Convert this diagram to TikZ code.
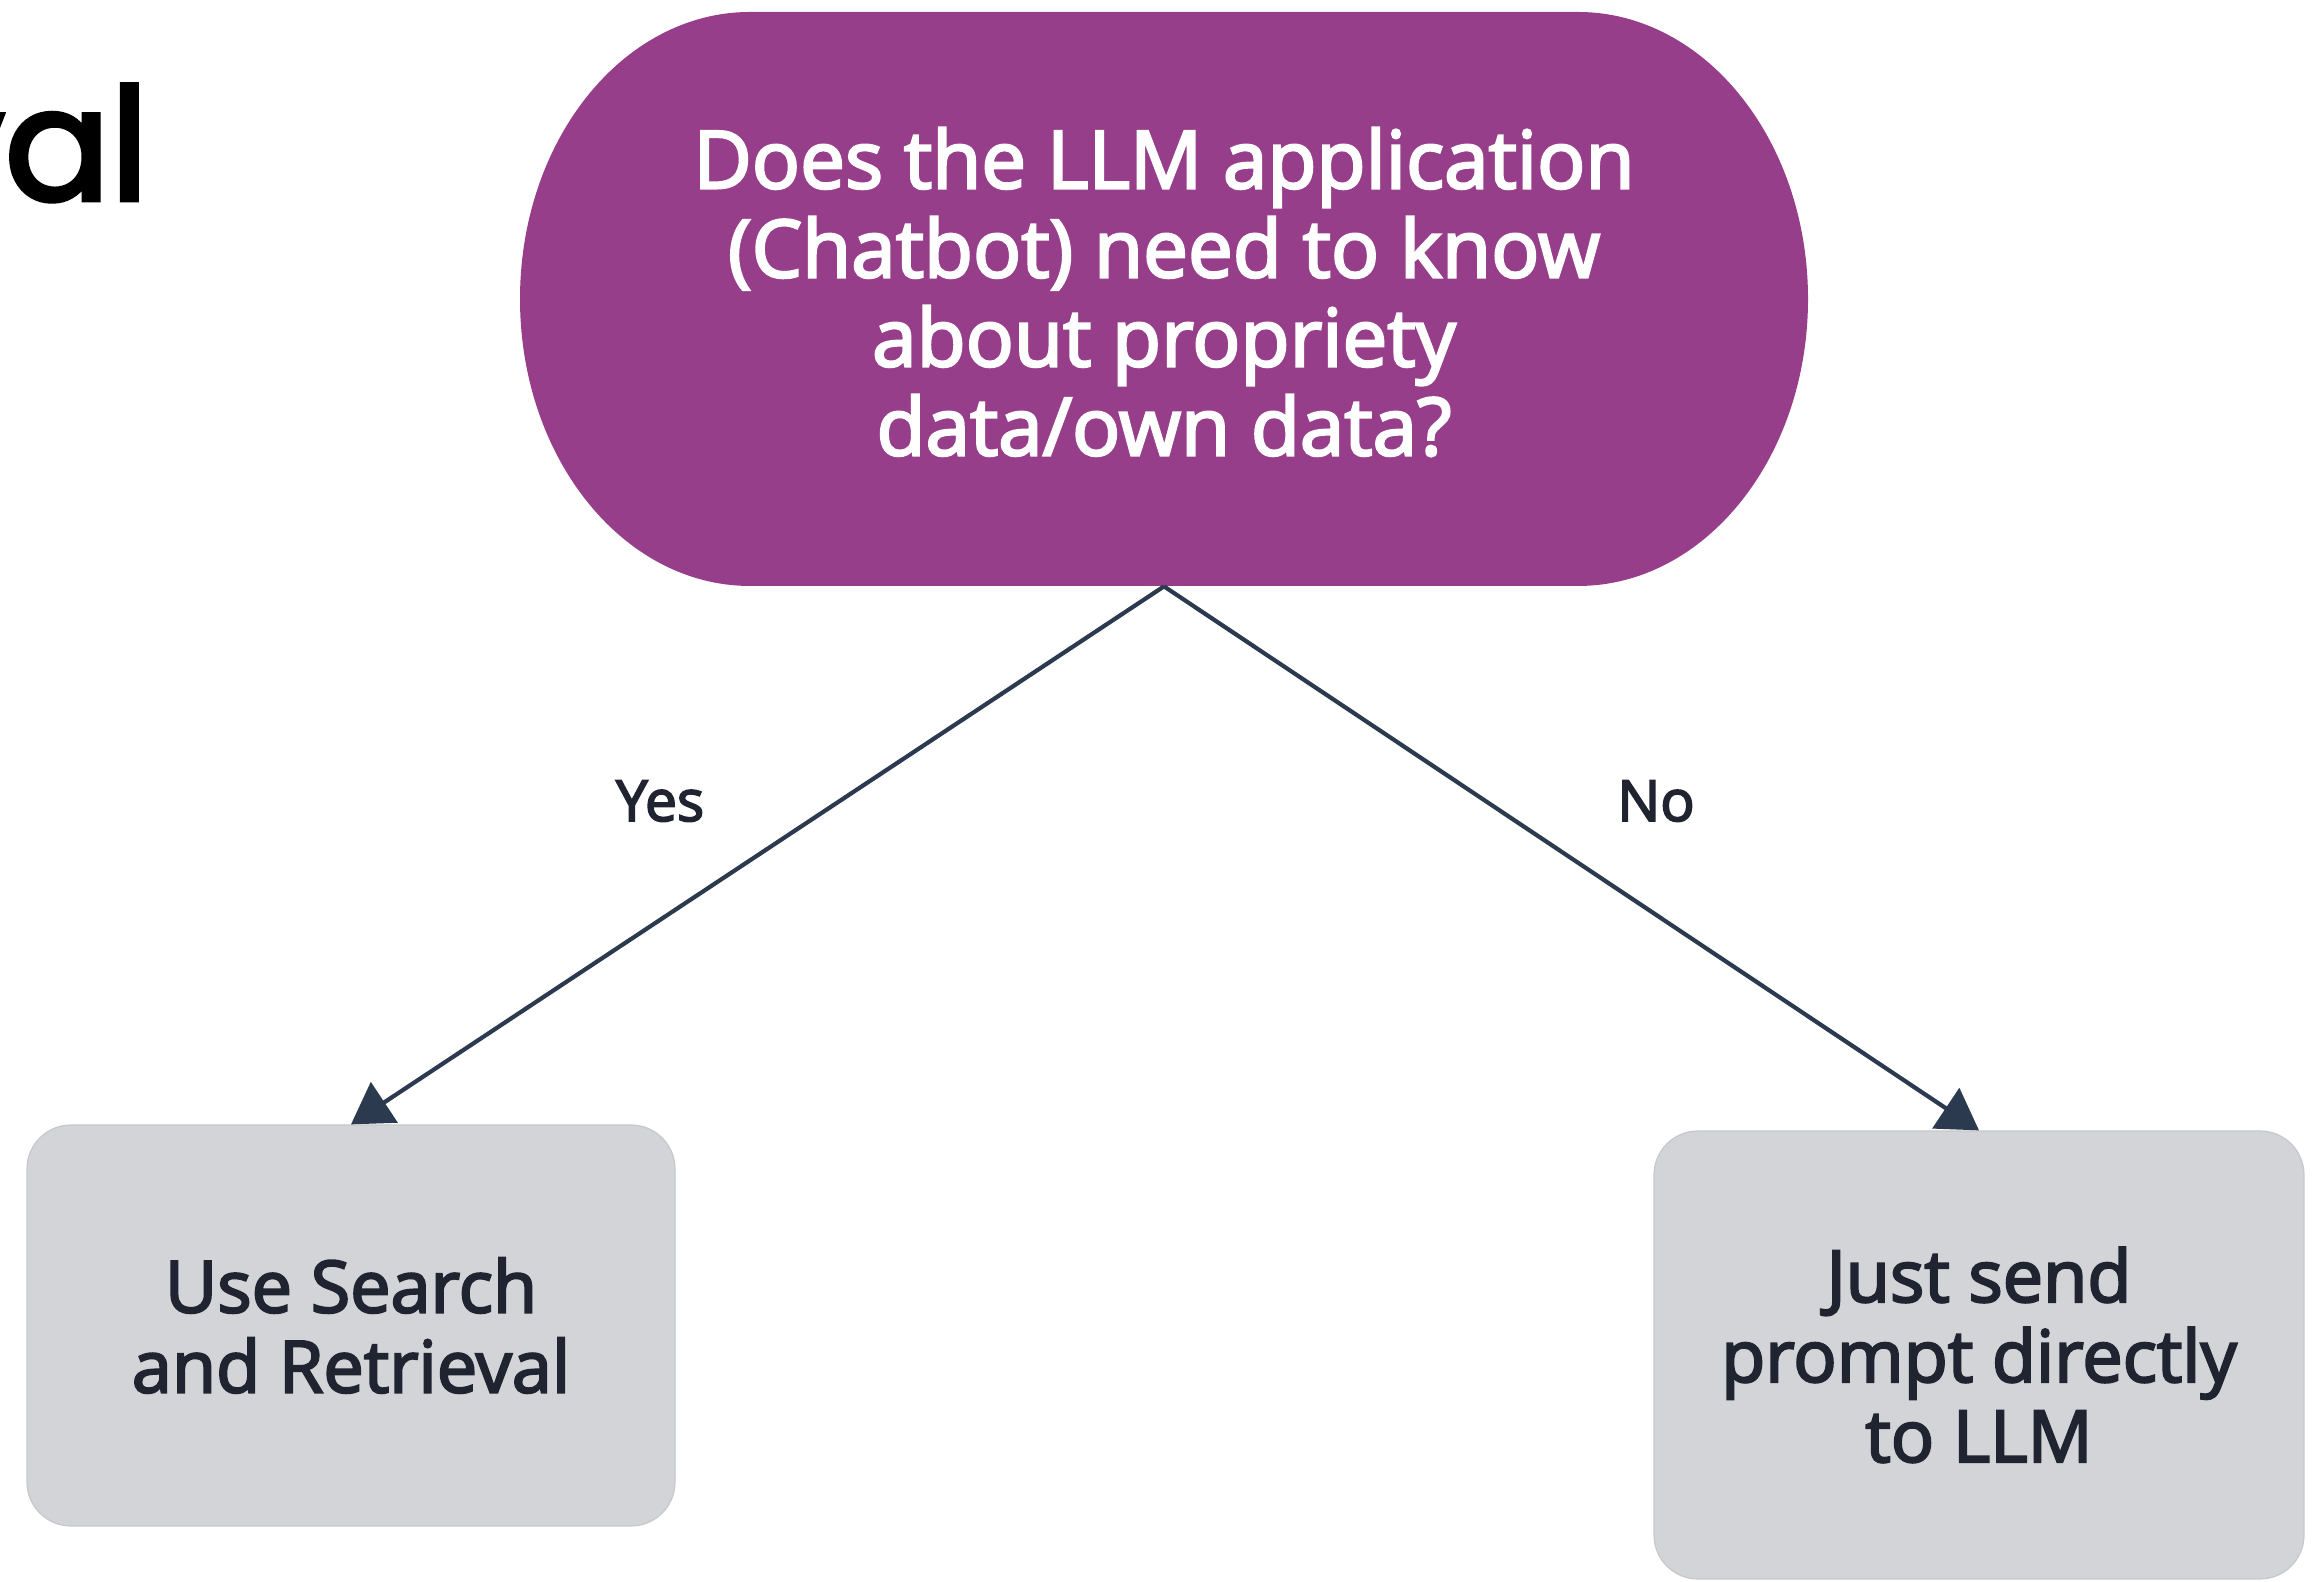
\documentclass[tikz,border=0pt]{standalone}
\usepackage{fontspec}
\setmainfont{Open Sans}
\newfontfamily\semi{Open Sans}[FakeBold=3]
\newfontfamily\valfont{Poppins}[FakeBold=3]
\usetikzlibrary{arrows.meta}
\definecolor{purp}{HTML}{973E8A}
\definecolor{boxgray}{HTML}{D2D4D7}
\definecolor{boxedge}{HTML}{C6C8CB}
\definecolor{arrowc}{HTML}{2B3A4F}
\definecolor{boxtext}{HTML}{1F2430}
\tikzset{
  qtext/.style={text=white, align=center, inner sep=0pt,
    font=\semi\fontsize{40}{44.5}\selectfont},
  answer/.style={fill=boxgray, draw=boxedge, line width=0.6pt, rounded corners=22pt,
    align=center, text=boxtext, inner sep=0pt,
    font=\semi\fontsize{36}{40}\selectfont},
  branch/.style={draw=arrowc, line width=2.1pt,
    -{Triangle[length=20pt,width=24pt]}},
  lbl/.style={text=boxtext, inner sep=0pt, font=\semi\fontsize{28.5}{32}\selectfont}
}
\begin{document}
\begin{tikzpicture}[x=0.5pt,y=0.5pt]
\useasboundingbox (0,0) rectangle (2316,1582);
% partial title text at left
\begin{scope}
\clip (0,0) rectangle (2316,1582);
\node[anchor=base east, inner sep=0pt, font=\valfont\fontsize{78}{80}\selectfont] (title) at (149,1382) {val};
\end{scope}
% decision shape
\node[minimum width=644pt, minimum height=287pt, inner sep=0pt] (q) at (1164,1283) {};
\fill[purp] (750,1570) -- (1578,1570)
  arc[start angle=90, end angle=0, x radius=230, y radius=287]
  arc[start angle=0, end angle=-90, x radius=230, y radius=287]
  -- (750,996)
  arc[start angle=270, end angle=180, x radius=230, y radius=287]
  arc[start angle=180, end angle=90, x radius=230, y radius=287]
  -- cycle;
\node[qtext] (qt) at (1164,1290) {Does the LLM application\\(Chatbot) need to know\\about propriety\\data/own data?};
% answers
\node[answer, minimum width=324pt, minimum height=200.5pt] (yes) at (351,256.5) {Use Search\\and Retrieval};
\node[answer, minimum width=325pt, minimum height=224pt] (no) at (1979,227) {Just send\\prompt directly\\to LLM};
% connectors
\draw[branch] (q.south) -- (yes.north);
\draw[branch] (q.south) -- (no.north);
\node[lbl] (ylbl) at (660,781) {Yes};
\node[lbl] (nlbl) at (1656,781) {No};
\end{tikzpicture}
\end{document}
